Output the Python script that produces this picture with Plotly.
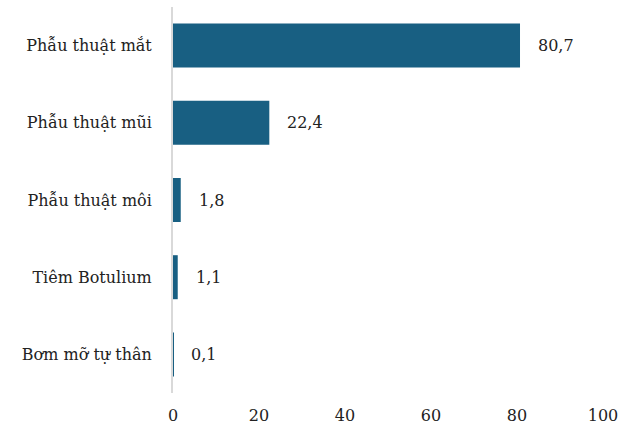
import plotly.graph_objects as go

categories = ["Phẫu thuật mắt", "Phẫu thuật mũi", "Phẫu thuật môi", "Tiêm Botulium", "Bơm mỡ tự thân"]
values = [80.7, 22.4, 1.8, 1.1, 0.1]
value_labels = ["80,7", "22,4", "1,8", "1,1", "0,1"]
x_ticks = [0, 20, 40, 60, 80, 100]

FONT = "DejaVu Serif"

fig = go.Figure(go.Bar(
    x=values, y=categories, orientation="h",
    marker=dict(color="#185f82", line=dict(width=0)),
    hoverinfo="skip",
))

for c, v, t in zip(categories, values, value_labels):
    fig.add_annotation(x=v, y=c, text=t, xanchor="left", yanchor="middle",
                       xshift=16, showarrow=False,
                       font=dict(family=FONT, size=16, color="#222222"))

fig.update_layout(
    width=625, height=432,
    margin=dict(l=173, r=8, t=7, b=39),
    paper_bgcolor="white", plot_bgcolor="white",
    bargap=0.43,
    showlegend=False,
    font=dict(family=FONT, size=16, color="#222222"),
)
fig.update_xaxes(range=[0, 100], tickvals=x_ticks, ticktext=[str(v) for v in x_ticks],
                 showgrid=False, zeroline=False, showline=False, ticks="",
                 ticklabelstandoff=11, ticklabeloverflow="allow", fixedrange=True,
                 tickfont=dict(family=FONT, size=16, color="#222222"))
fig.update_yaxes(categoryorder="array", categoryarray=categories[::-1],
                 showgrid=False, zeroline=False, showline=True,
                 linecolor="#d9d9d9", linewidth=2, ticks="",
                 ticklabelstandoff=16, fixedrange=True,
                 tickfont=dict(family=FONT, size=16, color="#222222"))

fig.write_html("out.html")
